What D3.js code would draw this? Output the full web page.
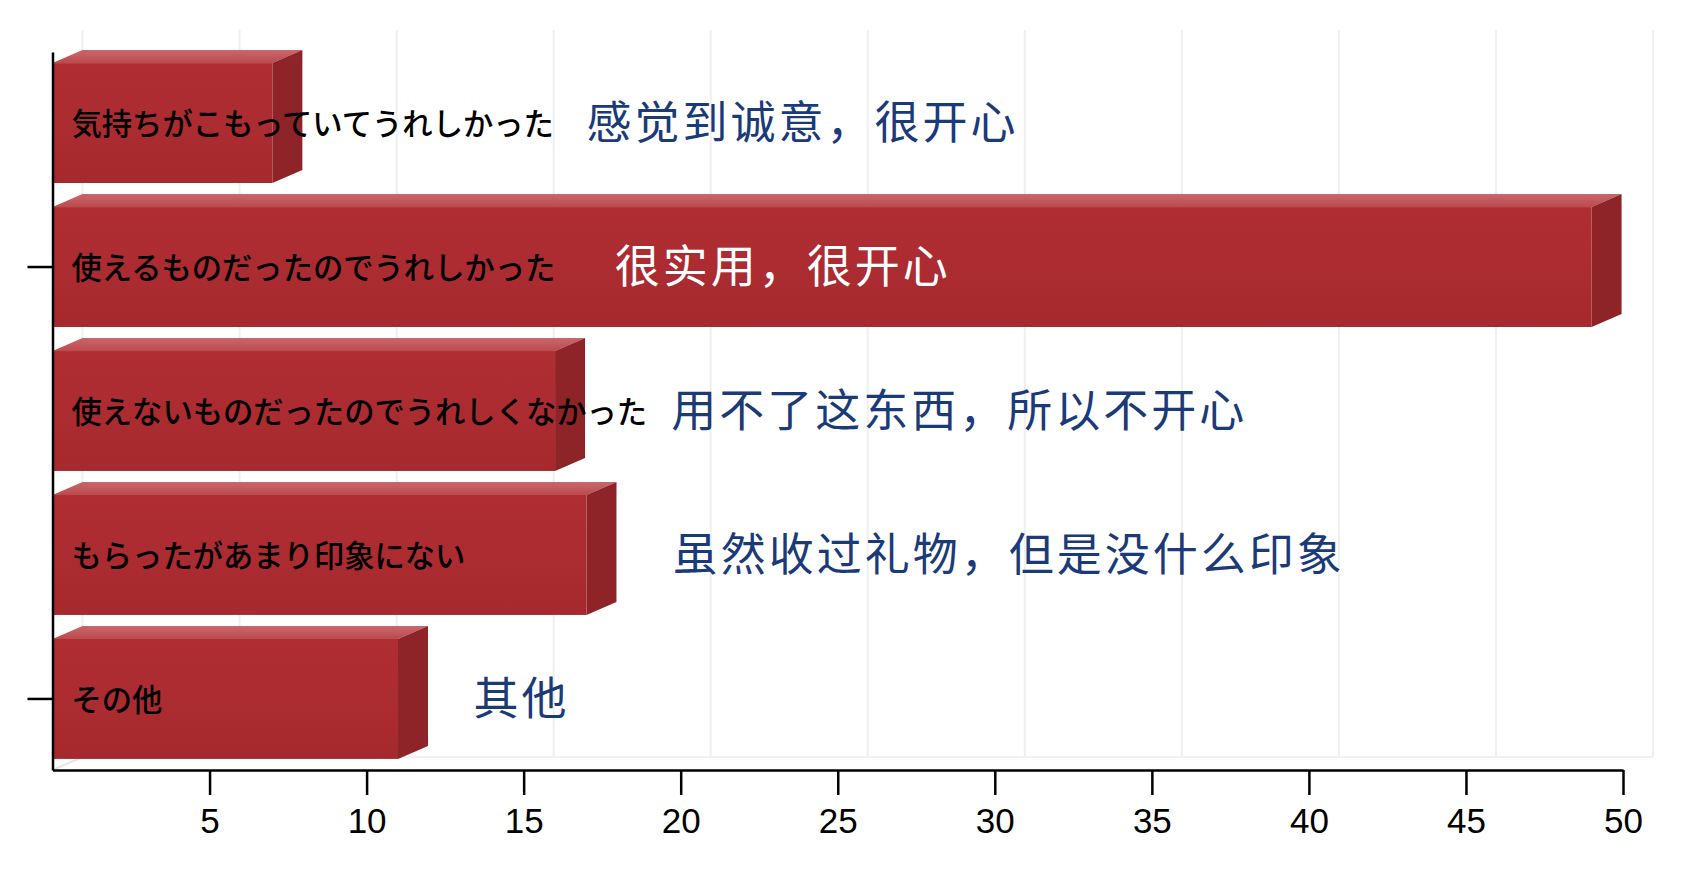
<!DOCTYPE html>
<html>
<head>
<meta charset="utf-8">
<script src="https://cdn.jsdelivr.net/npm/d3@7"></script>
<style>
  body { margin: 0; background: #fff; }
</style>
</head>
<body>
<script>
// horizontal 3D-ish bar chart, values in percent
var categories = [
  "気持ちがこもっていてうれしかった",
  "使えるものだったのでうれしかった",
  "使えないものだったのでうれしくなかった",
  "もらったがあまり印象にない",
  "その他"
];
var values = [7, 49, 16, 17, 11];
var notes = [
  "感觉到诚意，很开心",
  "很实用，很开心",
  "用不了这东西，所以不开心",
  "虽然收过礼物，但是没什么印象",
  "其他"
];
var xTicks = [5, 10, 15, 20, 25, 30, 35, 40, 45, 50];
var yTicks = [categories[1], categories[4]];

// where the chinese notes start, in axis units (layout only)
var noteX = [17.0, 17.9, 19.7, 19.75, 13.4];

var outWidth = 1701, outHeight = 893;
var plot = {left: 52.5, right: 1623, top: 52, bottom: 770};
var depth = {dx: 30, dy: -13};

var xScale = d3.scaleLinear().domain([0, 50]).range([plot.left, plot.right]);
var yScale = d3.scaleBand().domain(categories)
  .range([plot.top, plot.bottom])
  .paddingInner(0.167).paddingOuter(0.077);

var svg = d3.select("body").append("svg")
  .attr("width", outWidth)
  .attr("height", outHeight);

// gradients for the bar faces
var defs = svg.append("defs");
var gFront = defs.append("linearGradient").attr("id", "front")
  .attr("x1", 0).attr("y1", 0).attr("x2", 0).attr("y2", 1);
gFront.append("stop").attr("offset", "0%").attr("stop-color", "#b02e33");
gFront.append("stop").attr("offset", "100%").attr("stop-color", "#a6292e");
var gTop = defs.append("linearGradient").attr("id", "top")
  .attr("x1", 0).attr("y1", 0).attr("x2", 0).attr("y2", 1);
gTop.append("stop").attr("offset", "0%").attr("stop-color", "#c9676b");
gTop.append("stop").attr("offset", "100%").attr("stop-color", "#bb4a4f");

// back wall gridlines + floor
var wallTop = plot.top + depth.dy - 9;
var floorY = plot.bottom + depth.dy;
svg.append("g").selectAll("line.grid")
  .data([0].concat(xTicks))
  .enter().append("line")
  .attr("x1", function(d) { return xScale(d) + depth.dx; })
  .attr("x2", function(d) { return xScale(d) + depth.dx; })
  .attr("y1", wallTop)
  .attr("y2", floorY)
  .attr("stroke", "#efefef")
  .attr("stroke-width", 2);
svg.append("line")
  .attr("x1", xScale(0) + depth.dx).attr("x2", xScale(50) + depth.dx)
  .attr("y1", floorY).attr("y2", floorY)
  .attr("stroke", "#f1f1f1").attr("stroke-width", 2);
svg.append("line")
  .attr("x1", xScale(0)).attr("y1", plot.bottom)
  .attr("x2", xScale(0) + depth.dx).attr("y2", floorY)
  .attr("stroke", "#e4e4e4").attr("stroke-width", 2);

// bars
var bars = svg.append("g").selectAll("g.bar")
  .data(values)
  .enter().append("g")
  .attr("class", "bar");

var bw = yScale.bandwidth();
bars.append("polygon")
  .attr("points", function(d, i) {
    var y = yScale(categories[i]), x0 = xScale(0), x1 = xScale(d);
    return [[x0, y], [x0 + depth.dx, y + depth.dy], [x1 + depth.dx, y + depth.dy], [x1, y]].join(" ");
  })
  .attr("fill", "url(#top)");
bars.append("polygon")
  .attr("points", function(d, i) {
    var y = yScale(categories[i]), x1 = xScale(d);
    return [[x1, y], [x1 + depth.dx, y + depth.dy], [x1 + depth.dx, y + bw + depth.dy], [x1, y + bw]].join(" ");
  })
  .attr("fill", "#8f2428");
bars.append("rect")
  .attr("x", xScale(0))
  .attr("y", function(d, i) { return yScale(categories[i]); })
  .attr("width", function(d) { return xScale(d) - xScale(0); })
  .attr("height", bw)
  .attr("fill", "url(#front)");

// japanese category labels inside bars
svg.append("g").selectAll("text.cat")
  .data(categories)
  .enter().append("text")
  .attr("x", xScale(0) + 19)
  .attr("y", function(d) { return yScale(d) + bw / 2 + 1; })
  .attr("dy", "0.36em")
  .style("font-family", "'Noto Sans CJK JP', sans-serif")
  .style("font-size", "30.3px")
  .style("font-weight", 500)
  .style("fill", "#000")
  .text(function(d) { return d; });

// chinese notes
svg.append("g").selectAll("text.note")
  .data(notes)
  .enter().append("text")
  .attr("x", function(d, i) { return xScale(noteX[i]); })
  .attr("y", function(d, i) { return yScale(categories[i]) + bw / 2; })
  .attr("dy", "0.36em")
  .style("font-family", "'Noto Sans CJK SC', sans-serif")
  .style("font-size", "45px")
  .style("letter-spacing", "3px")
  .style("fill", function(d, i) { return xScale(values[i]) > xScale(noteX[i]) ? "#ffffff" : "#1b3a78"; })
  .text(function(d) { return d; });

// axes
var xAxis = d3.axisBottom(xScale).tickValues(xTicks).tickSize(25).tickSizeOuter(0).tickPadding(13);
var gx = svg.append("g")
  .attr("transform", "translate(0," + plot.bottom + ")")
  .call(xAxis);
gx.selectAll("path, line").attr("stroke", "#000").attr("stroke-width", 2.5);
gx.selectAll("text")
  .style("font-family", "'Liberation Sans Narrow', 'Liberation Sans', sans-serif")
  .style("font-size", "35px")
  .style("fill", "#000");

var yAxis = d3.axisLeft(yScale).tickValues(yTicks).tickSize(25).tickSizeOuter(0).tickFormat("");
var gy = svg.append("g")
  .attr("transform", "translate(" + plot.left + ",0)")
  .call(yAxis);
gy.selectAll("path, line").attr("stroke", "#000").attr("stroke-width", 2.5);
</script>
</body>
</html>
